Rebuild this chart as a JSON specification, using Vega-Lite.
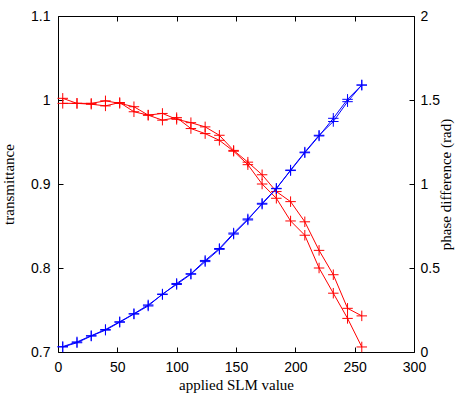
{
  "$schema": "https://vega.github.io/schema/vega-lite/v6.json",
  "width": 356,
  "height": 336,
  "autosize": {"type": "none"},
  "padding": {"left": 58, "top": 16, "right": 49, "bottom": 44},
  "background": "white",
  "config": {
    "view": {"stroke": null},
    "axis": {
      "domainColor": "black", "tickColor": "black", "labelColor": "black", "titleColor": "black",
      "labelFont": "Liberation Sans", "labelFontSize": 14, "titleFont": "Liberation Serif",
      "titleFontSize": 15, "titleFontWeight": "normal", "grid": false, "tickSize": -5, "domainWidth": 1, "tickWidth": 1,
      "labelFlush": false, "labelOverlap": false
    }
  },
  "datasets": {
    "d": [
      {"x": 4, "v": 1.002, "s": "t1", "k": "T"}, {"x": 16, "v": 0.996, "s": "t1", "k": "T"},
      {"x": 28, "v": 0.996, "s": "t1", "k": "T"}, {"x": 40, "v": 0.999, "s": "t1", "k": "T"},
      {"x": 52, "v": 0.996, "s": "t1", "k": "T"}, {"x": 64, "v": 0.992, "s": "t1", "k": "T"},
      {"x": 76, "v": 0.982, "s": "t1", "k": "T"}, {"x": 88, "v": 0.984, "s": "t1", "k": "T"},
      {"x": 100, "v": 0.977, "s": "t1", "k": "T"}, {"x": 112, "v": 0.973, "s": "t1", "k": "T"},
      {"x": 124, "v": 0.968, "s": "t1", "k": "T"}, {"x": 136, "v": 0.958, "s": "t1", "k": "T"},
      {"x": 148, "v": 0.940, "s": "t1", "k": "T"}, {"x": 160, "v": 0.926, "s": "t1", "k": "T"},
      {"x": 172, "v": 0.911, "s": "t1", "k": "T"}, {"x": 184, "v": 0.891, "s": "t1", "k": "T"},
      {"x": 196, "v": 0.879, "s": "t1", "k": "T"}, {"x": 208, "v": 0.855, "s": "t1", "k": "T"},
      {"x": 220, "v": 0.821, "s": "t1", "k": "T"}, {"x": 232, "v": 0.792, "s": "t1", "k": "T"},
      {"x": 244, "v": 0.752, "s": "t1", "k": "T"}, {"x": 256, "v": 0.743, "s": "t1", "k": "T"},
      {"x": 4, "v": 0.996, "s": "t2", "k": "T"}, {"x": 16, "v": 0.996, "s": "t2", "k": "T"},
      {"x": 28, "v": 0.995, "s": "t2", "k": "T"}, {"x": 40, "v": 0.993, "s": "t2", "k": "T"},
      {"x": 52, "v": 0.997, "s": "t2", "k": "T"}, {"x": 64, "v": 0.986, "s": "t2", "k": "T"},
      {"x": 76, "v": 0.982, "s": "t2", "k": "T"}, {"x": 88, "v": 0.976, "s": "t2", "k": "T"},
      {"x": 100, "v": 0.979, "s": "t2", "k": "T"}, {"x": 112, "v": 0.966, "s": "t2", "k": "T"},
      {"x": 124, "v": 0.960, "s": "t2", "k": "T"}, {"x": 136, "v": 0.952, "s": "t2", "k": "T"},
      {"x": 148, "v": 0.939, "s": "t2", "k": "T"}, {"x": 160, "v": 0.923, "s": "t2", "k": "T"},
      {"x": 172, "v": 0.900, "s": "t2", "k": "T"}, {"x": 184, "v": 0.883, "s": "t2", "k": "T"},
      {"x": 196, "v": 0.856, "s": "t2", "k": "T"}, {"x": 208, "v": 0.839, "s": "t2", "k": "T"},
      {"x": 220, "v": 0.800, "s": "t2", "k": "T"}, {"x": 232, "v": 0.770, "s": "t2", "k": "T"},
      {"x": 244, "v": 0.740, "s": "t2", "k": "T"}, {"x": 256, "v": 0.706, "s": "t2", "k": "T"},
      {"x": 4, "v": 0.030, "s": "p1", "k": "P"}, {"x": 16, "v": 0.055, "s": "p1", "k": "P"},
      {"x": 28, "v": 0.095, "s": "p1", "k": "P"}, {"x": 40, "v": 0.130, "s": "p1", "k": "P"},
      {"x": 52, "v": 0.177, "s": "p1", "k": "P"}, {"x": 64, "v": 0.226, "s": "p1", "k": "P"},
      {"x": 76, "v": 0.274, "s": "p1", "k": "P"}, {"x": 88, "v": 0.345, "s": "p1", "k": "P"},
      {"x": 100, "v": 0.402, "s": "p1", "k": "P"}, {"x": 112, "v": 0.463, "s": "p1", "k": "P"},
      {"x": 124, "v": 0.538, "s": "p1", "k": "P"}, {"x": 136, "v": 0.611, "s": "p1", "k": "P"},
      {"x": 148, "v": 0.702, "s": "p1", "k": "P"}, {"x": 160, "v": 0.786, "s": "p1", "k": "P"},
      {"x": 172, "v": 0.885, "s": "p1", "k": "P"}, {"x": 184, "v": 0.974, "s": "p1", "k": "P"},
      {"x": 196, "v": 1.080, "s": "p1", "k": "P"}, {"x": 208, "v": 1.186, "s": "p1", "k": "P"},
      {"x": 220, "v": 1.286, "s": "p1", "k": "P"}, {"x": 232, "v": 1.391, "s": "p1", "k": "P"},
      {"x": 244, "v": 1.504, "s": "p1", "k": "P"}, {"x": 256, "v": 1.589, "s": "p1", "k": "P"},
      {"x": 4, "v": 0.032, "s": "p2", "k": "P"}, {"x": 16, "v": 0.060, "s": "p2", "k": "P"},
      {"x": 28, "v": 0.097, "s": "p2", "k": "P"}, {"x": 40, "v": 0.134, "s": "p2", "k": "P"},
      {"x": 52, "v": 0.180, "s": "p2", "k": "P"}, {"x": 64, "v": 0.228, "s": "p2", "k": "P"},
      {"x": 76, "v": 0.280, "s": "p2", "k": "P"}, {"x": 88, "v": 0.342, "s": "p2", "k": "P"},
      {"x": 100, "v": 0.408, "s": "p2", "k": "P"}, {"x": 112, "v": 0.466, "s": "p2", "k": "P"},
      {"x": 124, "v": 0.545, "s": "p2", "k": "P"}, {"x": 136, "v": 0.616, "s": "p2", "k": "P"},
      {"x": 148, "v": 0.708, "s": "p2", "k": "P"}, {"x": 160, "v": 0.792, "s": "p2", "k": "P"},
      {"x": 172, "v": 0.880, "s": "p2", "k": "P"}, {"x": 184, "v": 0.972, "s": "p2", "k": "P"},
      {"x": 196, "v": 1.083, "s": "p2", "k": "P"}, {"x": 208, "v": 1.190, "s": "p2", "k": "P"},
      {"x": 220, "v": 1.290, "s": "p2", "k": "P"}, {"x": 232, "v": 1.372, "s": "p2", "k": "P"},
      {"x": 244, "v": 1.490, "s": "p2", "k": "P"}, {"x": 256, "v": 1.589, "s": "p2", "k": "P"}
    ]
  },
  "data": {"name": "d"},
  "layer": [
    {
      "transform": [{"filter": "datum.k === 'T'"}],
      "mark": {"type": "line", "color": "#ff0000", "strokeWidth": 1,
        "point": {"shape": "M-1,0H1M0,-1V1", "filled": false, "stroke": "#ff0000", "size": 110, "strokeWidth": 1}},
      "encoding": {
        "x": {"field": "x", "type": "quantitative", "scale": {"domain": [0, 300], "nice": false},
          "axis": {"orient": "bottom", "values": [0, 50, 100, 150, 200, 250, 300], "title": "applied SLM value", "labelPadding": 13, "titlePadding": 3}},
        "y": {"field": "v", "type": "quantitative", "scale": {"domain": [0.7, 1.1], "nice": false, "zero": false},
          "axis": {"values": [0.7, 0.8, 0.9, 1, 1.1], "format": "~g", "title": "transmittance", "labelPadding": 13, "titlePadding": 14}},
        "detail": {"field": "s"}
      }
    },
    {
      "transform": [{"filter": "datum.k === 'P'"}],
      "mark": {"type": "line", "color": "#0000ff", "strokeWidth": 1,
        "point": {"shape": "M-1,0H1M0,-1V1", "filled": false, "stroke": "#0000ff", "size": 110, "strokeWidth": 1}},
      "encoding": {
        "x": {"field": "x", "type": "quantitative", "scale": {"domain": [0, 300], "nice": false},
          "axis": {"orient": "top", "values": [0, 50, 100, 150, 200, 250, 300], "labels": false, "title": null}},
        "y": {"field": "v", "type": "quantitative", "scale": {"domain": [0, 2], "nice": false},
          "axis": {"orient": "right", "values": [0, 0.5, 1, 1.5, 2], "format": "~g", "title": "phase difference (rad)", "titleAngle": -90, "titleBaseline": "bottom", "labelPadding": 11, "titlePadding": 14}},
        "detail": {"field": "s"}
      }
    }
  ],
  "resolve": {"scale": {"y": "independent"}, "axis": {"x": "independent"}}
}
